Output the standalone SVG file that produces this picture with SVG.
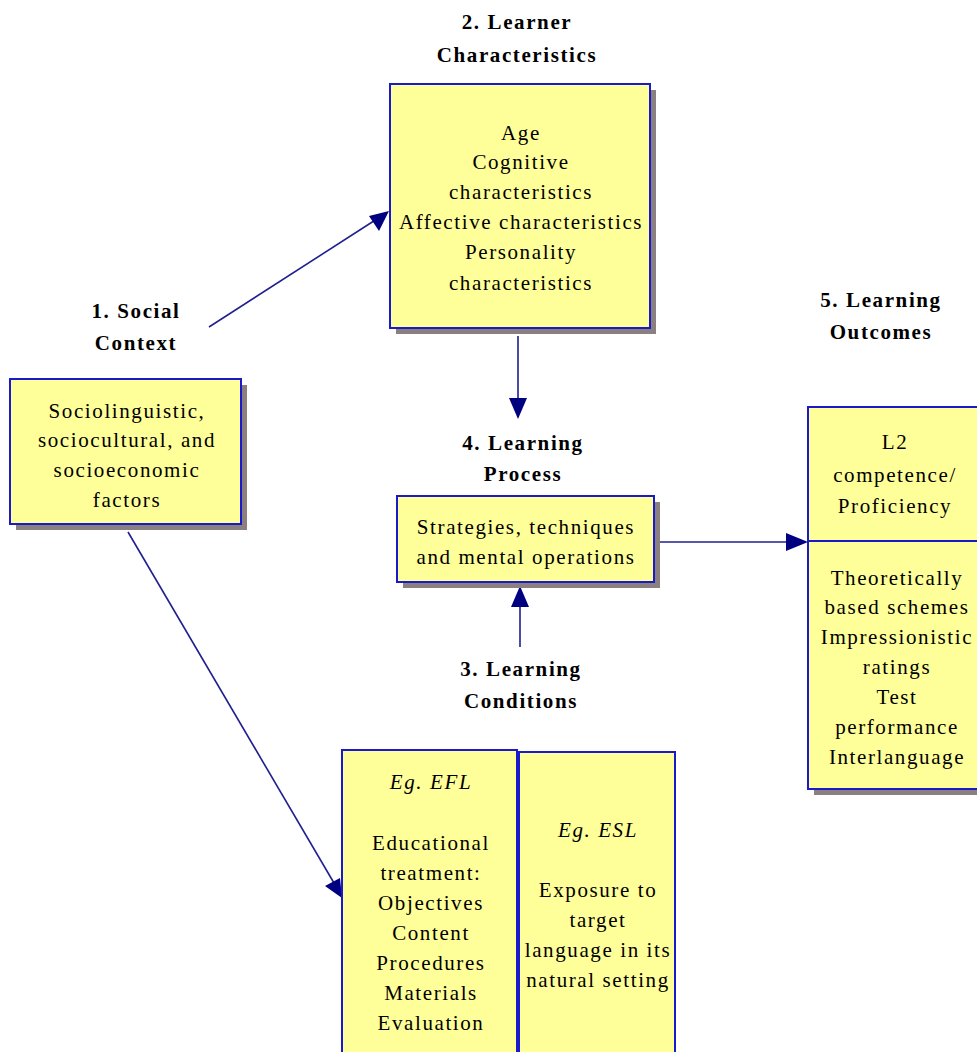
<svg xmlns="http://www.w3.org/2000/svg" width="977" height="1052" viewBox="0 0 977 1052">
<style>
.box{fill:#ffff99;stroke:#1a1acc;stroke-width:2}
.sh{fill:#8a8080}
.t{font-family:"Liberation Serif",serif;font-size:21px;letter-spacing:1.6px;fill:#000;text-anchor:middle}
.h{font-family:"Liberation Serif",serif;font-size:21px;letter-spacing:1.6px;font-weight:bold;fill:#000;text-anchor:middle}
.i{font-style:italic}
.c{stroke:#1f1f8f;stroke-width:1.6;fill:none}
.a{fill:#000080}
</style>
<rect width="977" height="1052" fill="#fff"/>
<g id="connectors">
<line class="c" x1="209" y1="327" x2="380" y2="217"/>
<path class="a" d="M389,211 L369,216 L379,231 z"/>
<line class="c" x1="518" y1="336" x2="518" y2="400"/>
<path class="a" d="M509,398 L527,398 L518,419 z"/>
<line class="c" x1="520" y1="647" x2="520" y2="605"/>
<path class="a" d="M511,607 L529,607 L520,586 z"/>
<line class="c" x1="660" y1="542" x2="790" y2="542"/>
<path class="a" d="M786,533 L786,551 L808,542 z"/>
<line class="c" x1="128" y1="532" x2="334" y2="883"/>
<path class="a" d="M325,886 L340,878 L342,898 z"/>
</g>
<g id="learner">
<rect class="sh" x="396" y="90" width="260" height="244"/>
<rect class="box" x="390" y="84" width="260" height="244"/>
<text class="h" x="517" y="29">2. Learner</text>
<text class="h" x="517" y="62">Characteristics</text>
<text class="t" x="521" y="140">Age</text>
<text class="t" x="521" y="169">Cognitive</text>
<text class="t" x="521" y="199">characteristics</text>
<text class="t" x="521" y="229">Affective characteristics</text>
<text class="t" x="521" y="259">Personality</text>
<text class="t" x="521" y="290">characteristics</text>
</g>
<g id="social">
<rect class="sh" x="16" y="385" width="231" height="145"/>
<rect class="box" x="10" y="379" width="231" height="145"/>
<text class="h" x="136" y="318">1. Social</text>
<text class="h" x="136" y="350">Context</text>
<text class="t" x="127" y="418">Sociolinguistic,</text>
<text class="t" x="127" y="447">sociocultural, and</text>
<text class="t" x="127" y="477">socioeconomic</text>
<text class="t" x="127" y="507">factors</text>
</g>
<g id="process">
<rect class="sh" x="403" y="502" width="257" height="86"/>
<rect class="box" x="397" y="496" width="257" height="86"/>
<text class="h" x="523" y="450">4. Learning</text>
<text class="h" x="523" y="481">Process</text>
<text class="t" x="526" y="534">Strategies, techniques</text>
<text class="t" x="526" y="564">and mental operations</text>
</g>
<g id="conditions-label">
<text class="h" x="521" y="676">3. Learning</text>
<text class="h" x="521" y="708">Conditions</text>
</g>
<g id="outcomes">
<rect class="sh" x="814" y="413" width="180" height="382"/>
<rect class="box" x="808" y="407" width="180" height="382"/>
<line x1="808" y1="541" x2="988" y2="541" stroke="#1a1acc" stroke-width="2"/>
<text class="h" x="881" y="307">5. Learning</text>
<text class="h" x="881" y="339">Outcomes</text>
<text class="t" x="895" y="449">L2</text>
<text class="t" x="895" y="482">competence/</text>
<text class="t" x="895" y="513">Proficiency</text>
<text class="t" x="897" y="585">Theoretically</text>
<text class="t" x="897" y="614">based schemes</text>
<text class="t" x="897" y="644">Impressionistic</text>
<text class="t" x="897" y="674">ratings</text>
<text class="t" x="897" y="704">Test</text>
<text class="t" x="897" y="734">performance</text>
<text class="t" x="897" y="764">Interlanguage</text>
</g>
<g id="efl">
<rect class="box" x="342" y="750" width="175" height="310"/>
<text class="t i" x="431" y="789">Eg. EFL</text>
<text class="t" x="431" y="850">Educational</text>
<text class="t" x="431" y="880">treatment:</text>
<text class="t" x="431" y="910">Objectives</text>
<text class="t" x="431" y="940">Content</text>
<text class="t" x="431" y="970">Procedures</text>
<text class="t" x="431" y="1000">Materials</text>
<text class="t" x="431" y="1030">Evaluation</text>
</g>
<g id="esl">
<rect class="box" x="519" y="752" width="156" height="310"/>
<text class="t i" x="598" y="837">Eg. ESL</text>
<text class="t" x="598" y="897">Exposure to</text>
<text class="t" x="598" y="927">target</text>
<text class="t" x="598" y="957">language in its</text>
<text class="t" x="598" y="987">natural setting</text>
</g>
</svg>
